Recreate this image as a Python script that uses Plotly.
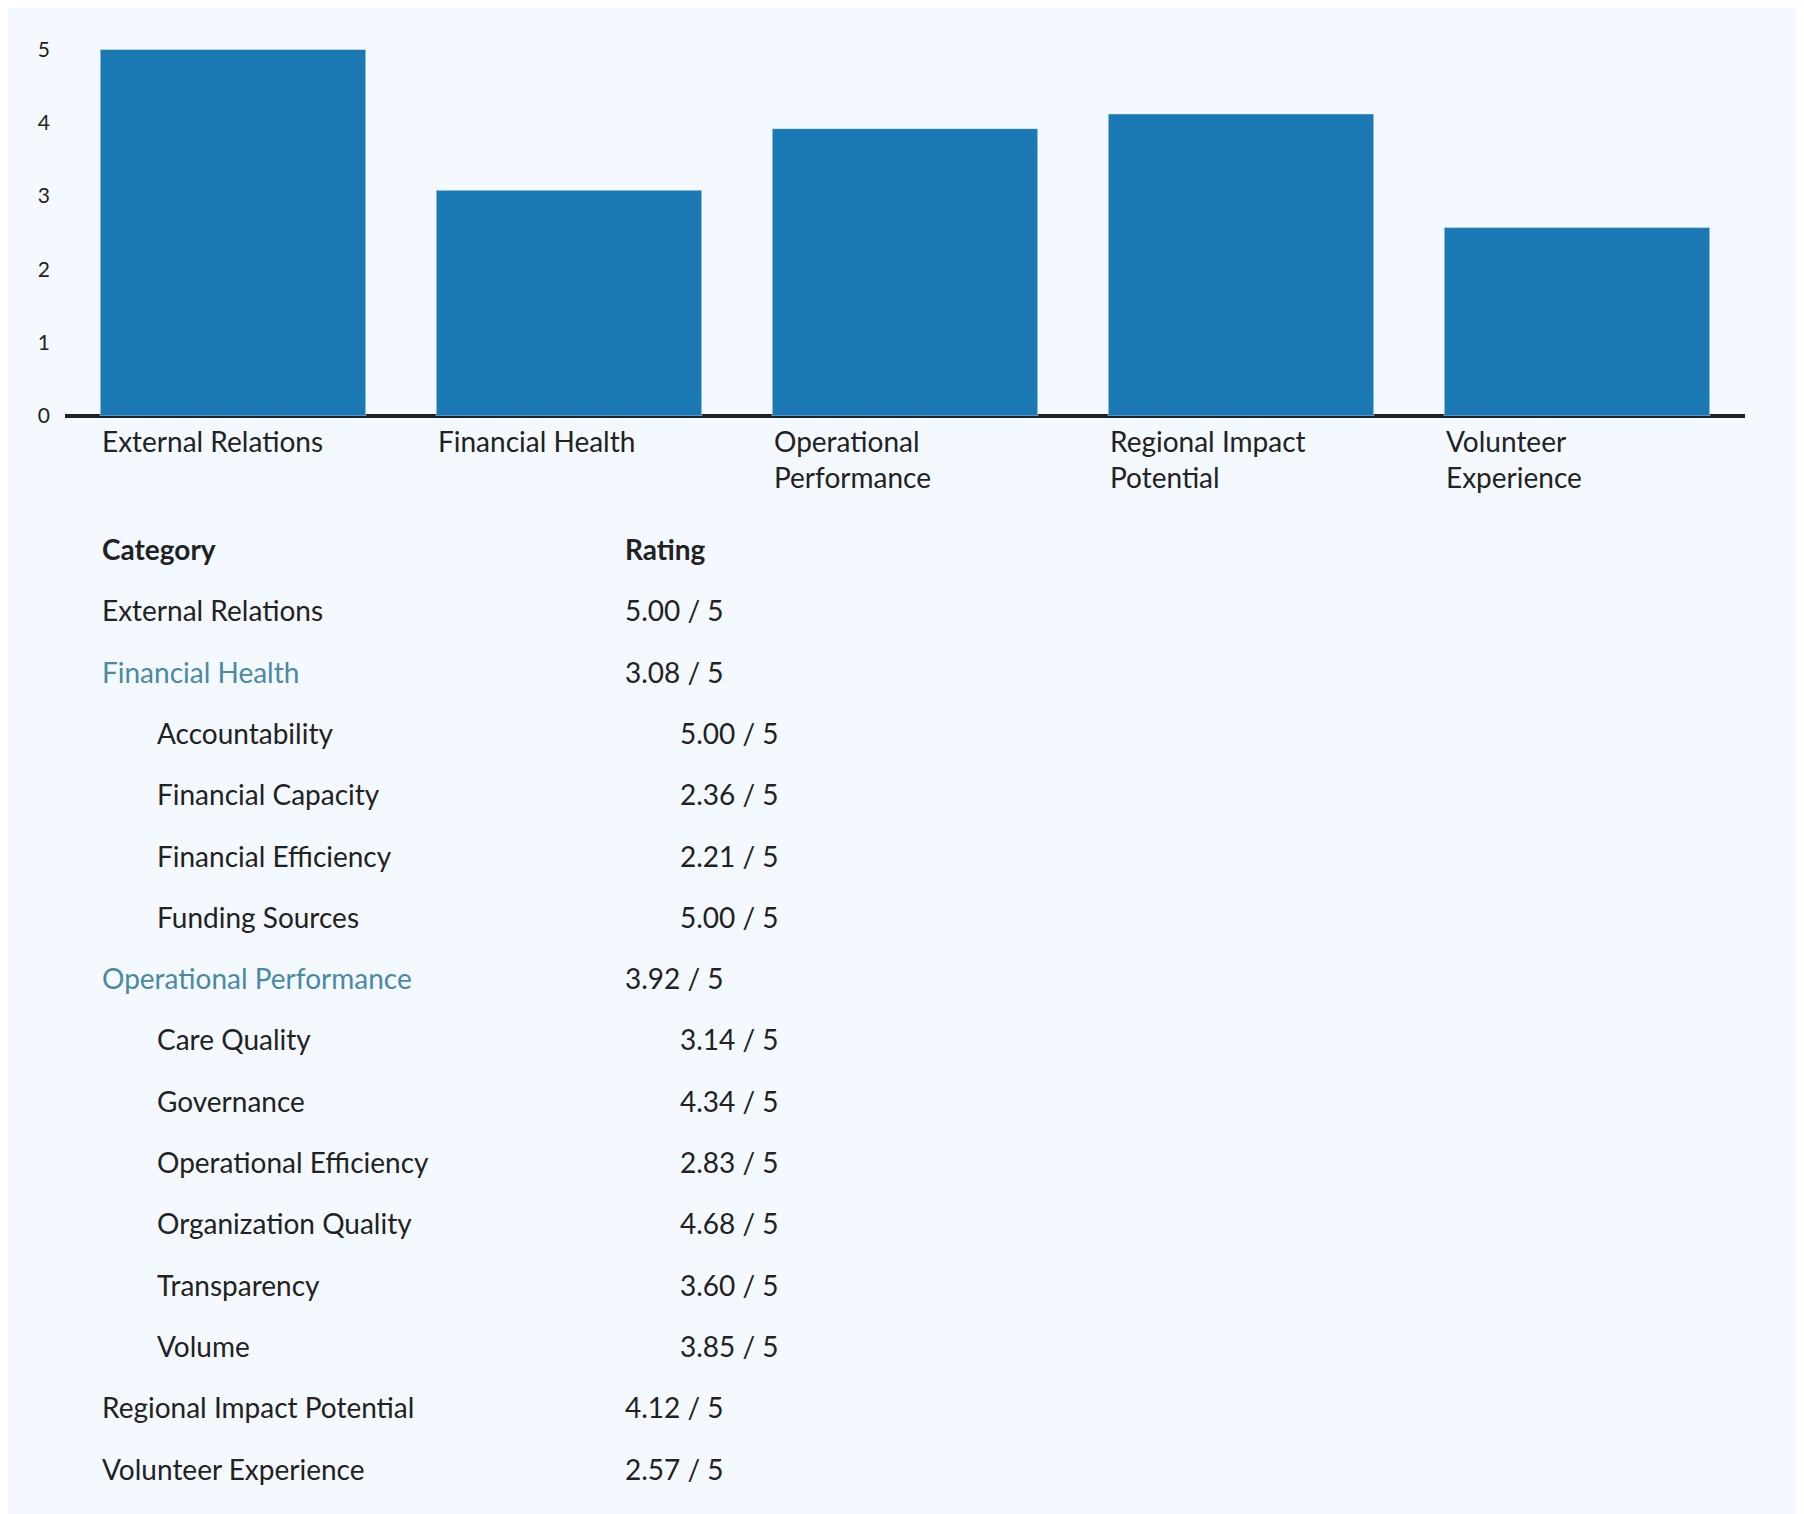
import plotly.graph_objects as go

categories = ["External Relations", "Financial Health", "Operational Performance",
              "Regional Impact Potential", "Volunteer Experience"]
tick_labels = ["External Relations", "Financial Health", "Operational<br>Performance",
               "Regional Impact<br>Potential", "Volunteer<br>Experience"]
ratings = [5.00, 3.08, 3.92, 4.12, 2.57]

table_rows = [
    ("External Relations", "5.00 / 5", 0, False),
    ("Financial Health", "3.08 / 5", 0, True),
    ("Accountability", "5.00 / 5", 1, False),
    ("Financial Capacity", "2.36 / 5", 1, False),
    ("Financial Efficiency", "2.21 / 5", 1, False),
    ("Funding Sources", "5.00 / 5", 1, False),
    ("Operational Performance", "3.92 / 5", 0, True),
    ("Care Quality", "3.14 / 5", 1, False),
    ("Governance", "4.34 / 5", 1, False),
    ("Operational Efficiency", "2.83 / 5", 1, False),
    ("Organization Quality", "4.68 / 5", 1, False),
    ("Transparency", "3.60 / 5", 1, False),
    ("Volume", "3.85 / 5", 1, False),
    ("Regional Impact Potential", "4.12 / 5", 0, False),
    ("Volunteer Experience", "2.57 / 5", 0, False),
]

W, H = 1804, 1514
L, R, T, B = 57, 67, 40, 1106
PW, PH = W - L - R, H - T - B
FONT = "Lato"
TXT = "#222222"
TEAL = "#4a89a5"
BAR = "#1a78b4"
BG = "#f3f9fe"

def px(x):
    return (x - L) / PW

def py(y):
    return (H - B - y) / PH

fig = go.Figure(go.Bar(x=list(range(len(categories))), y=ratings,
                       marker_color=BAR, width=0.79, hoverinfo="skip"))

ann = []
for i, lab in enumerate(tick_labels):
    ann.append(dict(x=i - 0.395, y=0, xref="x", yref="y", text=lab, showarrow=False,
                    xanchor="left", yanchor="top", align="left", yshift=-6,
                    font=dict(family=FONT, size=28, color=TXT)))

ann.append(dict(x=px(92), y=py(541), xref="paper", yref="paper", text="<b>Category</b>",
                showarrow=False, xanchor="left", yanchor="middle",
                font=dict(family=FONT, size=28, color=TXT)))
ann.append(dict(x=px(615), y=py(541), xref="paper", yref="paper", text="<b>Rating</b>",
                showarrow=False, xanchor="left", yanchor="middle",
                font=dict(family=FONT, size=28, color=TXT)))
for k, (name, val, indent, hl) in enumerate(table_rows):
    yy = py(541 + 61.3 * (k + 1))
    col = TEAL if hl else TXT
    ann.append(dict(x=px(147 if indent else 92), y=yy, xref="paper", yref="paper", text=name,
                    showarrow=False, xanchor="left", yanchor="middle",
                    font=dict(family=FONT, size=28, color=col)))
    ann.append(dict(x=px(670 if indent else 615), y=yy, xref="paper", yref="paper", text=val,
                    showarrow=False, xanchor="left", yanchor="middle",
                    font=dict(family=FONT, size=28, color=TXT)))

fig.update_layout(
    width=W, height=H, margin=dict(l=L, r=R, t=T, b=B),
    paper_bgcolor=BG, plot_bgcolor=BG, showlegend=False,
    annotations=ann,
    xaxis=dict(range=[-0.5, 4.5], showticklabels=False, showgrid=False, zeroline=False,
               showline=False, fixedrange=True),
    yaxis=dict(range=[0, 5.02], tickvals=[0, 1, 2, 3, 4, 5], showgrid=False, zeroline=True,
               zerolinecolor="#222222", zerolinewidth=4, showline=False,
               ticks="", ticklabelstandoff=14,
               tickfont=dict(family=FONT, size=21, color=TXT)),
)
fig.write_html("out.html")
